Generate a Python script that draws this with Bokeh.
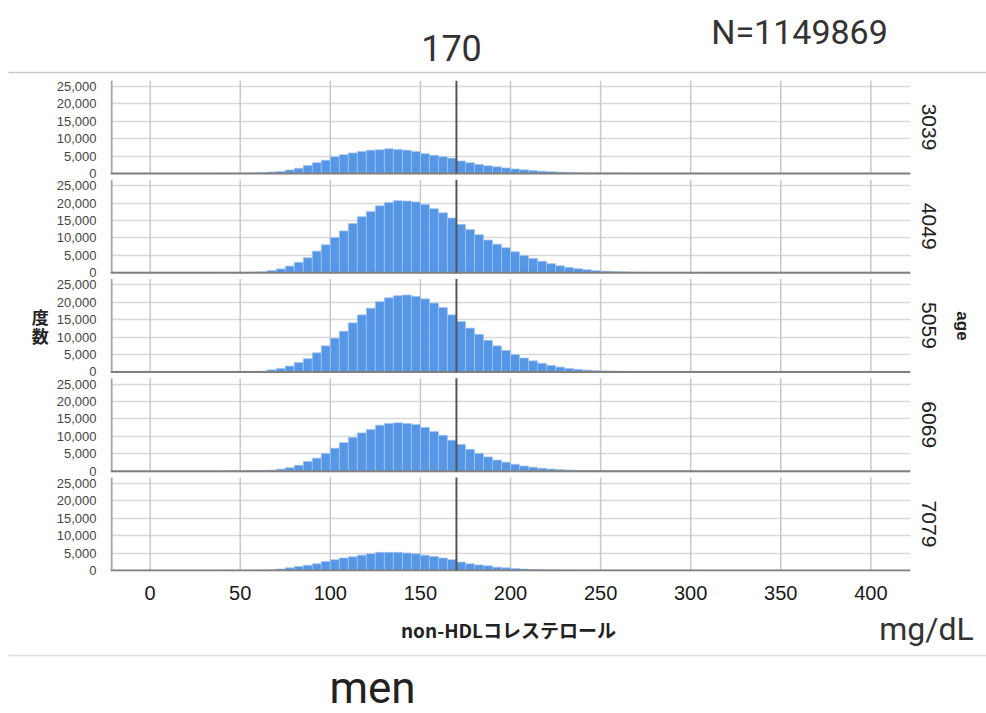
from bokeh.plotting import figure
from bokeh.layouts import column
from bokeh.models import Range1d, FixedTicker, LinearAxis, ColumnDataSource
from bokeh.core.properties import value
from bokeh.embed import file_html
from bokeh.resources import INLINE

# ---------------- data ----------------
bin_starts = list(range(40, 305, 5))  # bin width 5 mg/dL
bin_width = 5
age_groups = ["3039", "4049", "5059", "6069", "7079"]

counts_3039 = [20, 40, 60, 100, 200, 400, 600, 1000, 1500, 2300,
               3100, 3800, 4800, 5400, 5900, 6300, 6700, 6800, 7100, 6900,
               6700, 6300, 5700, 5200, 4800, 4400, 3600, 3100, 2600, 2200,
               1900, 1600, 1300, 1050, 850, 650, 500, 380, 280, 200,
               150, 110, 80, 60, 45, 35, 25, 20, 15, 10,
               8, 6, 5]
counts_4049 = [20, 40, 80, 150, 250, 600, 1100, 1900, 3000, 4300,
               6200, 8000, 10100, 12000, 14100, 16100, 17600, 19200, 20200, 20700,
               20600, 20300, 19600, 18400, 17200, 15700, 13900, 12400, 10900, 9400,
               8200, 7200, 6000, 4900, 4100, 3300, 2600, 2000, 1500, 1150,
               850, 600, 450, 320, 230, 160, 110, 80, 55, 40,
               30, 20, 15]
counts_5059 = [10, 20, 40, 100, 200, 600, 1000, 1700, 2700, 3800,
               5500, 7500, 9700, 11700, 14100, 16400, 18300, 20200, 21300, 21900,
               22100, 21700, 21000, 19800, 18500, 16400, 14500, 12600, 10800, 9100,
               7500, 6200, 5000, 4000, 3200, 2500, 1900, 1400, 1000, 750,
               550, 400, 280, 200, 140, 100, 70, 50, 35, 25,
               18, 12, 10]
counts_6069 = [10, 20, 40, 100, 200, 300, 600, 1000, 1700, 2800,
               3750, 5100, 6600, 8200, 9700, 11000, 12000, 13200, 13700, 13900,
               13700, 13400, 12600, 11400, 10300, 8900, 7700, 6300, 5100, 4100,
               3200, 2600, 2000, 1500, 1150, 850, 620, 450, 320, 230,
               160, 110, 80, 60, 40, 30, 20, 15, 10, 8,
               6, 4, 3]
counts_7079 = [10, 20, 30, 50, 100, 200, 400, 750, 1150, 1500,
               1900, 2600, 3100, 3600, 3900, 4400, 4800, 5200, 5200, 5200,
               5000, 4800, 4400, 4000, 3550, 3100, 2400, 1900, 1600, 1350,
               950, 750, 550, 400, 280, 200, 140, 100, 70, 50,
               35, 25, 18, 12, 9, 6, 5, 4, 3, 2,
               2, 1, 1]
all_counts = [counts_3039, counts_4049, counts_5059, counts_6069, counts_7079]

x_ticks = [0, 50, 100, 150, 200, 250, 300, 350, 400]
y_ticks = [0, 5000, 10000, 15000, 20000, 25000]
y_tick_labels = ["0", "5,000", "10,000", "15,000", "20,000", "25,000"]
ref_value = 170
title_text = "170"
n_text = "N=1149869"
x_title = "non-HDLコレステロール"
y_title = "度\n数"
facet_title = "age"
unit_text = "mg/dL"
sex_text = "men"

# ---------------- layout ----------------
W = 986
HDR_H, MAIN_H, FTR_H = 80, 523, 110
FL, FR = 110, 910          # frame left/right inside main figure
X0, X1 = -22, 422
SPACING = 28500            # vertical offset between stacked panels
PANEL_TOP = 26700
Y0 = -300
Y1 = 4 * SPACING + PANEL_TOP
offsets = [(4 - i) * SPACING for i in range(5)]


def no_align(f):
    if "frame_align" in f.properties():
        f.frame_align = False


def blank_fig(h, y_top):
    f = figure(width=W, height=h, x_range=Range1d(0, W), y_range=Range1d(y_top + h, y_top),
               output_backend="svg", toolbar_location=None, min_border=0,
               x_axis_type=None, y_axis_type=None)
    f.outline_line_color = None
    f.grid.visible = False
    no_align(f)
    return f


# header
hdr = blank_fig(HDR_H, 0)
hdr.text(x=[451], y=[47], text=[title_text], text_align="center", text_baseline="middle",
         text_font=value("Roboto"), text_font_size="36px", text_color="#333333")
hdr.text(x=[799], y=[31], text=[n_text], text_align="center", text_baseline="middle",
         text_font=value("Roboto"), text_font_size="34px", text_color="#333333")
hdr.segment(x0=[8], y0=[72], x1=[W], y1=[72], line_color="#c8c8c8", line_width=1.5)

# main stacked histogram
p = figure(width=W, height=MAIN_H, x_range=Range1d(X0, X1), y_range=Range1d(Y0, Y1),
           output_backend="svg", toolbar_location=None,
           min_border_left=FL, min_border_right=W - FR,
           min_border_top=0, min_border_bottom=32)
p.outline_line_color = None
no_align(p)

tick_pos, overrides = [], {}
for off in offsets:
    for t, lbl in zip(y_ticks, y_tick_labels):
        tick_pos.append(off + t)
        overrides[off + t] = lbl
p.yaxis.ticker = FixedTicker(ticks=tick_pos)
p.yaxis.major_label_overrides = overrides
p.yaxis.axis_line_color = None
p.yaxis.major_tick_line_color = None
p.yaxis.minor_tick_line_color = None
p.yaxis.major_label_text_font = "Liberation Sans"
p.yaxis.major_label_text_font_size = "13px"
p.yaxis.major_label_text_color = "#444444"
p.yaxis.major_label_standoff = 8
p.yaxis.axis_label = y_title
p.yaxis.axis_label_orientation = "horizontal"
p.yaxis.axis_label_text_font = "Noto Sans CJK JP"
p.yaxis.axis_label_text_font_style = "bold"
p.yaxis.axis_label_text_font_size = "17px"
p.yaxis.axis_label_text_line_height = 0.78
p.yaxis.axis_label_text_color = "#222222"
p.yaxis.axis_label_standoff = 5
p.ygrid.grid_line_color = "#d9d9d9"
p.ygrid.grid_line_width = 1.5
p.xgrid.visible = False

p.xaxis.ticker = FixedTicker(ticks=x_ticks)
p.xaxis.axis_line_color = None
p.xaxis.major_tick_line_color = None
p.xaxis.minor_tick_line_color = None
p.xaxis.major_label_text_font = "Liberation Sans"
p.xaxis.major_label_text_font_size = "20px"
p.xaxis.major_label_text_color = "#1a1a1a"
p.xaxis.major_label_standoff = 8

# right axis carrying the age-group labels
rax = LinearAxis(ticker=FixedTicker(ticks=[off + PANEL_TOP / 2 for off in offsets]),
                 major_label_overrides={off + PANEL_TOP / 2: g for off, g in zip(offsets, age_groups)},
                 major_label_orientation="vertical",
                 axis_line_color=None, major_tick_line_color=None, minor_tick_line_color=None,
                 major_label_text_font="Liberation Sans", major_label_text_font_size="21px",
                 major_label_text_color="#222222", major_label_standoff=5,
                 axis_label=facet_title, axis_label_text_font="Liberation Sans",
                 axis_label_text_font_style="bold", axis_label_text_font_size="17px",
                 axis_label_text_color="#222222", axis_label_standoff=14)
p.add_layout(rax, "right")

# vertical grid and left axis line, per panel
gx0, gy0, gx1, gy1 = [], [], [], []
for off in offsets:
    for xt in x_ticks:
        gx0.append(xt); gx1.append(xt); gy0.append(off); gy1.append(off + PANEL_TOP)
p.segment(gx0, gy0, gx1, gy1, line_color="#c8c8c8", line_width=1.5)
p.segment([X0 + 0.6] * 5, offsets, [X0 + 0.6] * 5, [o + PANEL_TOP for o in offsets],
          line_color="#a6a6a6", line_width=2)

# bars
bx, btop, bbot = [], [], []
for off, counts in zip(offsets, all_counts):
    for b, c in zip(bin_starts, counts):
        bx.append(b + bin_width / 2)
        btop.append(off + c)
        bbot.append(off)
src = ColumnDataSource(dict(x=bx, top=btop, bottom=bbot))
p.vbar(x="x", top="top", bottom="bottom", width=bin_width, source=src,
       fill_color="#5596e6", line_color="#a4c6f0", line_width=0.7)

# baselines and reference line
p.segment([X0] * 5, offsets, [X1] * 5, offsets, line_color="#808080", line_width=2)
p.segment([ref_value] * 5, offsets, [ref_value] * 5, [o + PANEL_TOP for o in offsets],
          line_color="#555555", line_width=2)

# footer
top_f = HDR_H + MAIN_H
ftr = blank_fig(FTR_H, top_f)
ftr.text(x=[508], y=[629], text=[x_title], text_align="center", text_baseline="middle",
         text_font=value("Noto Sans CJK JP"), text_font_style="bold",
         text_font_size="19px", text_color="#222222")
ftr.text(x=[926], y=[628], text=[unit_text], text_align="center", text_baseline="middle",
         text_font=value("Roboto"), text_font_size="32px", text_color="#333333")
ftr.segment(x0=[8], y0=[655], x1=[W], y1=[655], line_color="#dcdcdc", line_width=1.5)
ftr.text(x=[372], y=[687], text=[sex_text], text_align="center", text_baseline="middle",
         text_font=value("Roboto"), text_font_size="44px", text_color="#222222")

layout = column(hdr, p, ftr, spacing=0)
open("out.html", "w").write(file_html(layout, INLINE))
